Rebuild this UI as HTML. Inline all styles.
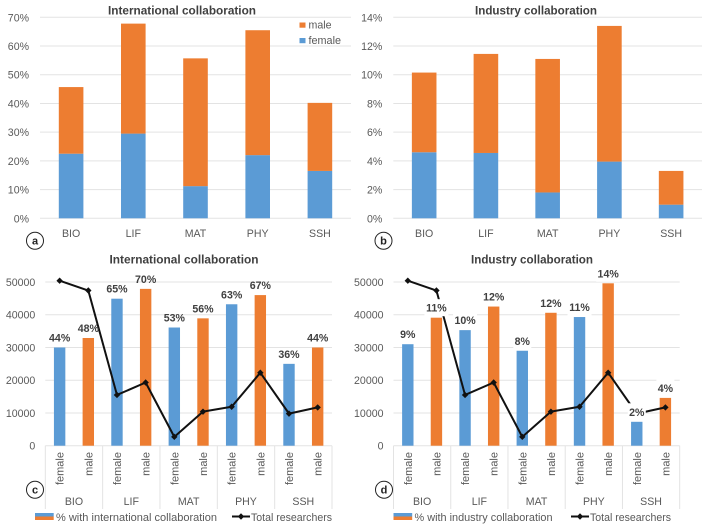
<!DOCTYPE html>
<html lang="en">
<head>
<meta charset="utf-8">
<title>Collaboration charts</title>
<style>
html,body{margin:0;padding:0;background:#fff;width:708px;height:528px;overflow:hidden}
svg{display:block;font-family:"Liberation Sans",sans-serif}
</style>
</head>
<body>
<svg id="figure" xmlns="http://www.w3.org/2000/svg" width="708" height="528" viewBox="0 0 708 528">
  <rect x="0" y="0" width="708" height="528" fill="#ffffff"/>
</svg>
<script>
const fields = ['BIO', 'LIF', 'MAT', 'PHY', 'SSH'];
const genders = ['female', 'male'];

const intlFemaleShare = [22.5, 29.5, 11.2, 22, 16.5];
const intlMaleShare = [23.2, 38.3, 44.5, 43.5, 23.7];
const intlShareTicks = ['0%', '10%', '20%', '30%', '40%', '50%', '60%', '70%'];

const indFemaleShare = [4.6, 4.55, 1.8, 3.95, 0.95];
const indMaleShare = [5.55, 6.9, 9.3, 9.45, 2.35];
const indShareTicks = ['0%', '2%', '4%', '6%', '8%', '10%', '12%', '14%'];

const countTicks = ['0', '10000', '20000', '30000', '40000', '50000'];
const totalResearchers = [50400, 47400, 15500, 19300, 2700, 10400, 11900, 22300, 9800, 11700];

const intlCounts = [30000, 32900, 44900, 47900, 36100, 38900, 43200, 46000, 25000, 30000];
const intlPercent = [44, 48, 65, 70, 53, 56, 63, 67, 36, 44];

const indCounts = [31000, 39100, 35300, 42500, 29000, 40600, 39300, 49600, 7300, 14600];
const indPercent = [9, 11, 10, 12, 8, 12, 11, 14, 2, 4];

const BLUE = '#5B9BD5';
const ORANGE = '#ED7D31';
const GRID = '#E3E3E3';
const TXT = '#595959';
const DARK = '#404040';
const svg = document.getElementById('figure');
const NS = 'http://www.w3.org/2000/svg';

function make(tag, attrs, content) {
  const node = document.createElementNS(NS, tag);
  for (const k in attrs) node.setAttribute(k, attrs[k]);
  if (content !== undefined) node.textContent = content;
  svg.appendChild(node);
  return node;
}

function label(x, y, str, size, color, anchor, weight, width) {
  const attrs = {x: x, y: y, 'font-size': size, fill: color, 'text-anchor': anchor, 'font-weight': weight};
  if (width) {
    attrs.textLength = width;
    attrs.lengthAdjust = 'spacingAndGlyphs';
  }
  return make('text', attrs, str);
}

function drawBadge(p, cx, cy, letter) {
  const ring = make('circle', {cx: cx, cy: cy, r: 8.5, fill: '#fff', stroke: '#222', 'stroke-width': 1});
  
  
  const t = label(cx, cy + 3.8, letter, 11, '#222', 'middle', 'bold');
  
  
}

function drawStacked(cfg) {
  const plotW = cfg.right - cfg.left;
  const slot = plotW / fields.length;
  const yScale = v => cfg.bottom - v / cfg.max * (cfg.bottom - cfg.top);
  const xScale = i => cfg.left + slot * (i + 0.5);
  cfg.ticks.forEach((tick, i) => {
    const v = cfg.max * i / (cfg.ticks.length - 1);
    const line = make('line', {x1: cfg.left, x2: cfg.right, y1: yScale(v), y2: yScale(v), stroke: GRID, 'stroke-width': 1});
    
    
    const t = label(cfg.left - 11, yScale(v) + 4, tick, 10.6, TXT, 'end', 'normal');
    
    
  });
  fields.forEach((field, i) => {
    const f = cfg.female[i];
    const m = cfg.male[i];
    const femaleBar = make('rect', {x: xScale(i) - 12.3, width: 24.6, y: yScale(f), height: yScale(0) - yScale(f), fill: BLUE});
    
    
    const maleBar = make('rect', {x: xScale(i) - 12.3, width: 24.6, y: yScale(f + m), height: yScale(f) - yScale(f + m), fill: ORANGE});
    
    
    const t = label(xScale(i), 237, field, 10.6, TXT, 'middle', 'normal');
    
    
  });
  const title = label(cfg.titleX, 14.5, cfg.title, 11.6, DARK, 'middle', 'bold', cfg.titleW);
  
  
}

function drawCombo(cfg) {
  const plotW = cfg.right - cfg.left;
  const slot = plotW / totalResearchers.length;
  const yScale = v => cfg.bottom - v / 50000 * (cfg.bottom - cfg.top);
  const xScale = i => cfg.left + slot * (i + 0.5);

  countTicks.forEach(tick => {
    const v = Number(tick);
    const line = make('line', {x1: cfg.left, x2: cfg.right, y1: yScale(v), y2: yScale(v), stroke: GRID, 'stroke-width': 1});
    
    
    const t = label(cfg.left - 10, yScale(v) + 4, tick, 10.6, TXT, 'end', 'normal');
    
    
  });

  for (let g = 0; g <= fields.length; g++) {
    const gx = cfg.left + slot * 2 * g;
    const sep = make('line', {x1: gx, x2: gx, y1: cfg.bottom, y2: 509, stroke: GRID, 'stroke-width': 1});
    
    
  }

  cfg.counts.forEach((v, i) => {
    const field = fields[Math.floor(i / 2)];
    const gender = genders[i % 2];
    const bar = make('rect', {x: xScale(i) - 5.7, width: 11.4, y: yScale(v), height: yScale(0) - yScale(v), fill: i % 2 ? ORANGE : BLUE});
    
    
    const lx = xScale(i) + 4;
    const t = make('text', {transform: 'translate(' + lx + ',452) rotate(-90)', 'font-size': 11, fill: TXT, 'text-anchor': 'end'}, gender);
    
    
  });

  fields.forEach((field, i) => {
    const t = label(cfg.left + slot * (2 * i + 1), 505, field, 10.6, TXT, 'middle', 'normal');
    
    
  });

  const points = totalResearchers.map((v, i) => xScale(i) + ',' + yScale(v)).join(' ');
  const path = make('polyline', {points: points, fill: 'none', stroke: '#111', 'stroke-width': 2, 'stroke-linejoin': 'round'});
  
  
  totalResearchers.forEach((v, i) => {
    const x = xScale(i);
    const y = yScale(v);
    const dot = make('polygon', {points: (x - 3.2) + ',' + y + ' ' + x + ',' + (y - 3.2) + ' ' + (x + 3.2) + ',' + y + ' ' + x + ',' + (y + 3.2), fill: '#111'});
    
    
  });

  cfg.percent.forEach((p, i) => {
    const x = xScale(i);
    const y = yScale(cfg.counts[i]) - 10;
    if (cfg.masked) {
      const w = p < 10 ? 18 : 24;
      const bg = make('rect', {x: x - w / 2, y: y - 8.5, width: w, height: 17, fill: '#fff'});
      
      
    }
    const t = label(x, y + 4, p + '%', 10.6, DARK, 'middle', 'bold');
    
    
  });

  const sw1 = make('rect', {x: cfg.legendX, y: 513, width: 18.7, height: 3.5, fill: BLUE});
  
  
  const sw2 = make('rect', {x: cfg.legendX, y: 516.5, width: 18.7, height: 3.5, fill: ORANGE});
  
  
  const lt = label(cfg.legendX + 21, 521, cfg.legend, 11, TXT, 'start', 'normal', cfg.legendW);
  
  
  const ll = make('line', {x1: cfg.lineX, x2: cfg.lineX + 18, y1: 516.5, y2: 516.5, stroke: '#111', 'stroke-width': 2});
  
  
  const mx = cfg.lineX + 9;
  const lm = make('polygon', {points: (mx - 3.2) + ',516.5 ' + mx + ',513.3 ' + (mx + 3.2) + ',516.5 ' + mx + ',519.7', fill: '#111'});
  
  
  const lr = label(cfg.lineX + 19, 521, 'Total researchers', 11, TXT, 'start', 'normal', 81);
  
  
}

drawStacked({id: 'panel-a', left: 40, right: 351, top: 17.3, bottom: 218.3, max: 70, ticks: intlShareTicks,
  female: intlFemaleShare, male: intlMaleShare, title: 'International collaboration', titleX: 182, titleW: 148});
drawStacked({id: 'panel-b', left: 393.3, right: 702, top: 17.3, bottom: 218.3, max: 14, ticks: indShareTicks,
  female: indFemaleShare, male: indMaleShare, title: 'Industry collaboration', titleX: 536, titleW: 122});

const cTitle = label(184, 263.5, 'International collaboration', 11.6, DARK, 'middle', 'bold', 149);


const dTitle = label(532, 263.5, 'Industry collaboration', 11.6, DARK, 'middle', 'bold', 122);



drawCombo({id: 'panel-c', left: 45.3, right: 332, top: 282, bottom: 445.7, counts: intlCounts, percent: intlPercent,
  masked: false, legend: '% with international collaboration', legendX: 35, legendW: 161, lineX: 232});
drawCombo({id: 'panel-d', left: 393.5, right: 679.7, top: 282, bottom: 445.7, counts: indCounts, percent: indPercent,
  masked: true, legend: '% with industry collaboration', legendX: 393.5, legendW: 138, lineX: 571});

const legendMaleSwatch = make('rect', {x: 299.5, y: 22.5, width: 6, height: 5.2, fill: ORANGE});


const legendMaleText = label(308.5, 28.5, 'male', 10.6, TXT, 'start', 'normal', 23);


const legendFemaleSwatch = make('rect', {x: 299.5, y: 38, width: 6, height: 5.2, fill: BLUE});


const legendFemaleText = label(308.5, 44, 'female', 10.6, TXT, 'start', 'normal', 32.5);



drawBadge(0, 35, 240.7, 'a');
drawBadge(0, 383.5, 240.7, 'b');
drawBadge(0, 35, 489.7, 'c');
drawBadge(0, 384, 489.7, 'd');
</script>
</body>
</html>
